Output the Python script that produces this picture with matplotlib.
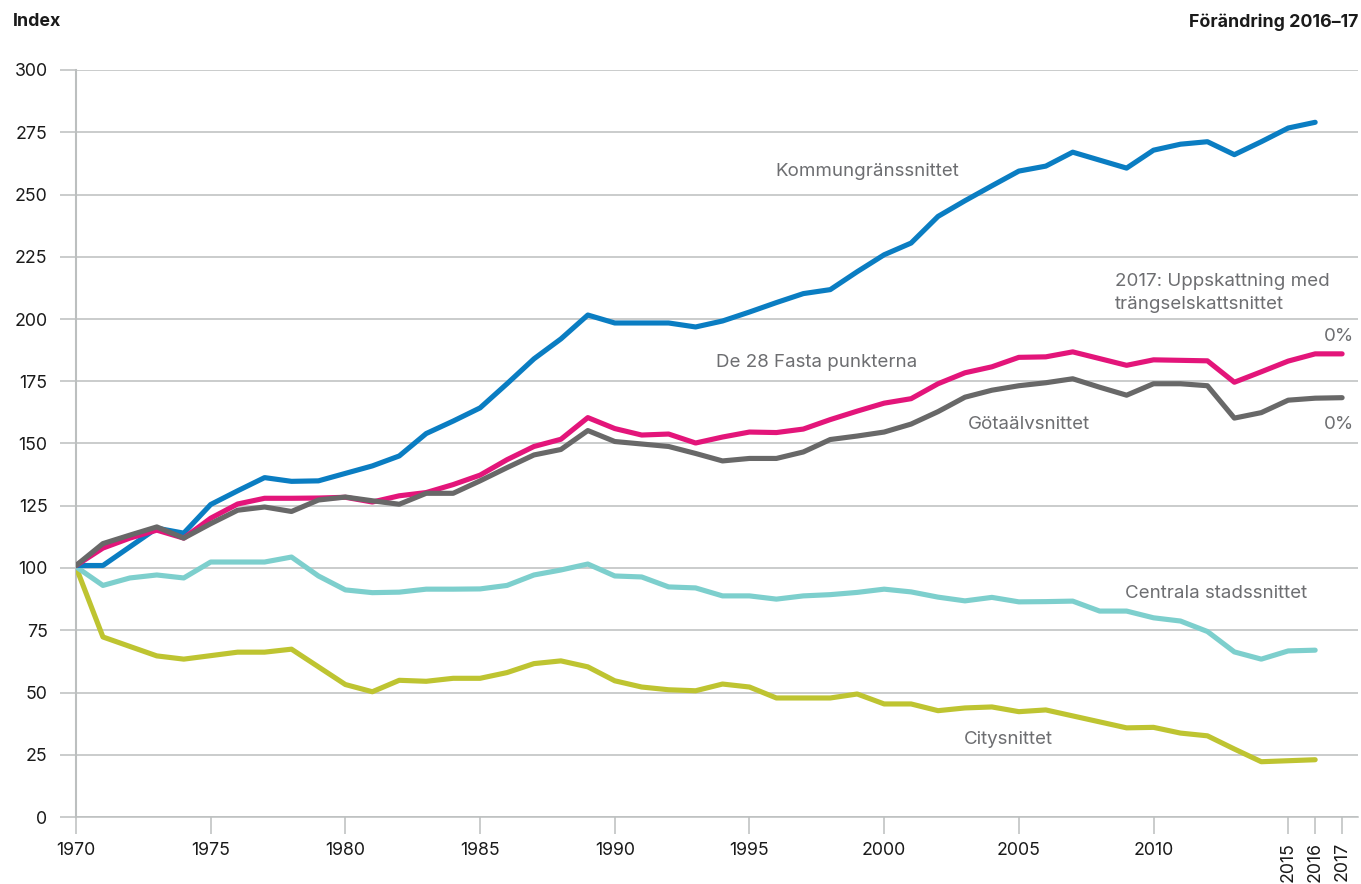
import numpy as np
import matplotlib
matplotlib.use("Agg")
import matplotlib.pyplot as plt

plt.rcParams['font.family'] = ['Inter', 'DejaVu Sans']

# years
years = list(range(1970, 2018))
years_16 = years[:-1]

# index series (1970 = 100)
kommungrans = [101, 101, 108.5, 116, 114, 125.5, 131, 136.3, 134.8, 135,
               138, 141, 145, 154, 159, 164.3, 174, 184, 192, 201.6,
               198.4, 198.4, 198.4, 196.8, 199.2, 202.8, 206.6, 210.2, 211.8, 219,
               225.8, 230.5, 241.2, 247.5, 253.5, 259.4, 261.4, 267, 263.8, 260.6,
               267.8, 270.2, 271.2, 266, 271.2, 276.7, 279]
fasta28 = [101, 108, 112, 115.2, 112, 120, 125.7, 128, 128, 128.1,
           128.4, 126.5, 129, 130.3, 133.5, 137.3, 143.5, 148.8, 151.7, 160.4,
           156, 153.4, 153.8, 150.2, 152.6, 154.6, 154.4, 155.8, 159.6, 163,
           166.2, 168, 174, 178.4, 180.8, 184.6, 184.8, 186.8, 184.1, 181.4,
           183.6, 183.4, 183.2, 174.6, 178.8, 183.1, 186, 186]
gotaalv = [101, 109.8, 113.2, 116.5, 112, 117.8, 123.2, 124.5, 122.7, 127.3,
           128.5, 127, 125.6, 130, 130, 135, 140.3, 145.4, 147.6, 155.2,
           150.8, 149.8, 148.8, 146, 143, 144, 144, 146.6, 151.6, 153,
           154.6, 157.8, 162.8, 168.6, 171.4, 173.2, 174.4, 176, 172.6, 169.4,
           174, 174, 173.2, 160.2, 162.4, 167.4, 168.2, 168.4]
centrala = [100.5, 93, 96, 97.2, 96, 102.4, 102.4, 102.4, 104.4, 96.8,
            91.2, 90.1, 90.3, 91.5, 91.5, 91.6, 93, 97.2, 99.2, 101.6,
            96.8, 96.4, 92.4, 92, 88.8, 88.8, 87.5, 88.8, 89.3, 90.2,
            91.5, 90.4, 88.3, 86.8, 88.2, 86.4, 86.5, 86.7, 82.7, 82.7,
            80, 78.7, 74.5, 66.3, 63.4, 66.7, 67]
city = [100.4, 72.3, 68.5, 64.7, 63.4, 64.8, 66.2, 66.2, 67.4, 60.3,
        53.2, 50.3, 54.9, 54.5, 55.7, 55.7, 58, 61.6, 62.7, 60.3,
        54.7, 52.2, 51.1, 50.7, 53.4, 52.2, 47.8, 47.8, 47.8, 49.4,
        45.4, 45.4, 42.7, 43.8, 44.2, 42.3, 43, 40.6, 38.2, 35.8,
        36, 33.7, 32.6, 27.3, 22.2, 22.6, 23]

c_blue = '#0a7dc2'
c_pink = '#e3157a'
c_gray = '#686868'
c_teal = '#7dcfcd'
c_lime = '#bec431'
c_grid = '#bcbfbf'
c_text = '#6d6e71'

fig = plt.figure(figsize=(13.61, 8.84), dpi=100)
ax = fig.add_axes([76 / 1361, 1 - 817 / 884, (1358 - 76) / 1361, (817 - 70) / 884])

lw = 3.7
ax.plot(years_16, city, color=c_lime, lw=lw, solid_capstyle='round', solid_joinstyle='round', zorder=3)
ax.plot(years_16, centrala, color=c_teal, lw=lw, solid_capstyle='round', solid_joinstyle='round', zorder=3)
ax.plot(years_16, kommungrans, color=c_blue, lw=lw, solid_capstyle='round', solid_joinstyle='round', zorder=3)
ax.plot(years, fasta28, color=c_pink, lw=lw, solid_capstyle='round', solid_joinstyle='round', zorder=4)
ax.plot(years, gotaalv, color=c_gray, lw=lw, solid_capstyle='round', solid_joinstyle='round', zorder=5)

ax.set_xlim(1970, 2017.59)
ax.set_ylim(0, 300)

ax.set_yticks(np.arange(0, 301, 25))
ax.yaxis.grid(True, color=c_grid, lw=1.1)
ax.set_axisbelow(True)

xt = [1970, 1975, 1980, 1985, 1990, 1995, 2000, 2005, 2010, 2015, 2016, 2017]
ax.set_xticks(xt)
ax.set_xticklabels([str(v) for v in xt])
for lab in ax.get_xticklabels()[-3:]:
    lab.set_rotation(90)
    lab.set_va('top')

for s in ['top', 'right']:
    ax.spines[s].set_visible(False)
ax.spines['left'].set_color(c_grid)
ax.spines['left'].set_linewidth(1.5)
ax.spines['bottom'].set_color(c_grid)
ax.spines['bottom'].set_linewidth(1.1)

ax.tick_params(axis='y', length=11.5, width=1.1, color=c_grid, pad=9, labelsize=12.8, labelcolor='#1a1a1a')
ax.tick_params(axis='x', length=12, width=1.1, color=c_grid, pad=6, labelsize=12.8, labelcolor='#1a1a1a')

fs = 13.5
ax.text(1995.95, 259.4, 'Kommungränssnittet', color=c_text, fontsize=fs, va='center')
ax.text(1993.75, 182.7, 'De 28 Fasta punkterna', color=c_text, fontsize=fs, va='center')
ax.text(2008.57, 210.5, '2017: Uppskattning med\nträngselskattsnittet', color=c_text,
        fontsize=fs, va='center', linespacing=1.5)
ax.text(2017.44, 192.8, '0%', color=c_text, fontsize=fs, va='center', ha='right')
ax.text(2003.1, 157.8, 'Götaälvsnittet', color=c_text, fontsize=fs, va='center')
ax.text(2017.44, 157.8, '0%', color=c_text, fontsize=fs, va='center', ha='right')
ax.text(2008.94, 89.6, 'Centrala stadssnittet', color=c_text, fontsize=fs, va='center')
ax.text(2002.96, 31.3, 'Citysnittet', color=c_text, fontsize=fs, va='center')

fig.text(13 / 1361, 1 - 22 / 884, 'Index', fontsize=12.8, fontweight='bold', va='center', ha='left', color='#1a1a1a')
fig.text(1358 / 1361, 1 - 22 / 884, 'Förändring 2016–17', fontsize=12.8, fontweight='bold',
         va='center', ha='right', color='#1a1a1a')

fig.savefig('out.png', dpi=100)
